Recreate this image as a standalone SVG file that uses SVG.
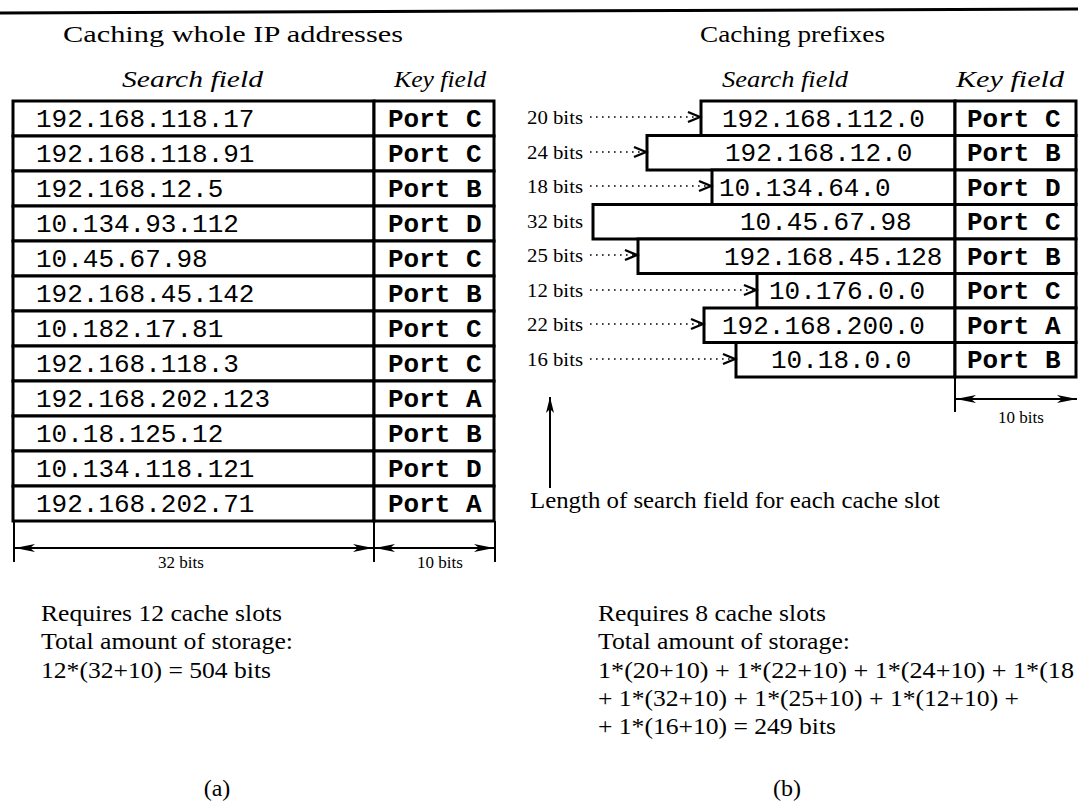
<svg xmlns="http://www.w3.org/2000/svg" width="1078" height="811" viewBox="0 0 1078 811">
<style>
.serif{font-family:"Liberation Serif","Times New Roman",serif;fill:#000}
.it{font-style:italic}
.mono{font-family:"Liberation Mono","Courier New",monospace;font-size:26px;fill:#000}
.key{font-weight:bold}
.box{fill:#fff;stroke:#000;stroke-width:3}
.dot{stroke:#000;stroke-width:1.6;stroke-dasharray:1.6 4.4;fill:none}
.dim{stroke:#000;stroke-width:2;fill:none}
.lbl{font-size:19px}
.body{font-size:24px}
</style>
<defs>
<marker id="chev" markerWidth="17" markerHeight="14" refX="14" refY="7" orient="auto" markerUnits="userSpaceOnUse">
<path d="M2,2 L14,7 L2,12" fill="none" stroke="#000" stroke-width="2.4"/>
</marker>
<marker id="barb" markerWidth="22" markerHeight="10" refX="20" refY="5" orient="auto-start-reverse" markerUnits="userSpaceOnUse">
<path d="M0,1 L20,5 L0,9 L5,5 z" fill="#000"/>
</marker>
<marker id="up" markerWidth="18" markerHeight="10" refX="16" refY="5" orient="auto" markerUnits="userSpaceOnUse">
<path d="M0,1 L16,5 L0,9 L4,5 z" fill="#000"/>
</marker>
</defs>
<rect width="1078" height="811" fill="#fff"/>
<line x1="0" y1="13" x2="1078" y2="9" stroke="#000" stroke-width="3"/>

<g id="titles">
<text class="serif" x="63" y="42" font-size="24" textLength="340" lengthAdjust="spacingAndGlyphs">Caching whole IP addresses</text>
<text class="serif" x="700" y="42" font-size="24" textLength="185" lengthAdjust="spacingAndGlyphs">Caching prefixes</text>
<text class="serif it" x="122" y="87" font-size="24" textLength="141" lengthAdjust="spacingAndGlyphs">Search field</text>
<text class="serif it" x="394" y="87" font-size="24" textLength="92" lengthAdjust="spacingAndGlyphs">Key field</text>
<text class="serif it" x="722" y="87" font-size="24" textLength="126" lengthAdjust="spacingAndGlyphs">Search field</text>
<text class="serif it" x="956" y="87" font-size="24" textLength="108" lengthAdjust="spacingAndGlyphs">Key field</text>
</g>

<g id="left-table">
<g id="l1"><rect class="box" x="13" y="101" width="361" height="35"/><rect class="box" x="374" y="101" width="120" height="35"/><text class="mono" x="36" y="127">192.168.118.17</text><text class="mono key" x="388" y="127">Port C</text></g>
<g id="l2"><rect class="box" x="13" y="136" width="361" height="35"/><rect class="box" x="374" y="136" width="120" height="35"/><text class="mono" x="36" y="162">192.168.118.91</text><text class="mono key" x="388" y="162">Port C</text></g>
<g id="l3"><rect class="box" x="13" y="171" width="361" height="35"/><rect class="box" x="374" y="171" width="120" height="35"/><text class="mono" x="36" y="197">192.168.12.5</text><text class="mono key" x="388" y="197">Port B</text></g>
<g id="l4"><rect class="box" x="13" y="206" width="361" height="35"/><rect class="box" x="374" y="206" width="120" height="35"/><text class="mono" x="36" y="232">10.134.93.112</text><text class="mono key" x="388" y="232">Port D</text></g>
<g id="l5"><rect class="box" x="13" y="241" width="361" height="35"/><rect class="box" x="374" y="241" width="120" height="35"/><text class="mono" x="36" y="267">10.45.67.98</text><text class="mono key" x="388" y="267">Port C</text></g>
<g id="l6"><rect class="box" x="13" y="276" width="361" height="35"/><rect class="box" x="374" y="276" width="120" height="35"/><text class="mono" x="36" y="302">192.168.45.142</text><text class="mono key" x="388" y="302">Port B</text></g>
<g id="l7"><rect class="box" x="13" y="311" width="361" height="35"/><rect class="box" x="374" y="311" width="120" height="35"/><text class="mono" x="36" y="337">10.182.17.81</text><text class="mono key" x="388" y="337">Port C</text></g>
<g id="l8"><rect class="box" x="13" y="346" width="361" height="35"/><rect class="box" x="374" y="346" width="120" height="35"/><text class="mono" x="36" y="372">192.168.118.3</text><text class="mono key" x="388" y="372">Port C</text></g>
<g id="l9"><rect class="box" x="13" y="381" width="361" height="35"/><rect class="box" x="374" y="381" width="120" height="35"/><text class="mono" x="36" y="407">192.168.202.123</text><text class="mono key" x="388" y="407">Port A</text></g>
<g id="l10"><rect class="box" x="13" y="416" width="361" height="35"/><rect class="box" x="374" y="416" width="120" height="35"/><text class="mono" x="36" y="442">10.18.125.12</text><text class="mono key" x="388" y="442">Port B</text></g>
<g id="l11"><rect class="box" x="13" y="451" width="361" height="35"/><rect class="box" x="374" y="451" width="120" height="35"/><text class="mono" x="36" y="477">10.134.118.121</text><text class="mono key" x="388" y="477">Port D</text></g>
<g id="l12"><rect class="box" x="13" y="486" width="361" height="35"/><rect class="box" x="374" y="486" width="120" height="35"/><text class="mono" x="36" y="512">192.168.202.71</text><text class="mono key" x="388" y="512">Port A</text></g>
</g>

<g id="right-table">
<g id="r1"><rect class="box" x="701" y="101" width="254" height="34.5"/><rect class="box" x="955" y="101" width="121" height="34.5"/><text class="mono" x="722" y="127">192.168.112.0</text><text class="mono key" x="967" y="127">Port C</text><text class="serif lbl" x="527" y="124" textLength="56" lengthAdjust="spacingAndGlyphs">20 bits</text></g>
<g id="r2"><rect class="box" x="647" y="135.5" width="308" height="34.5"/><rect class="box" x="955" y="135.5" width="121" height="34.5"/><text class="mono" x="725" y="161">192.168.12.0</text><text class="mono key" x="967" y="161">Port B</text><text class="serif lbl" x="527" y="159" textLength="56" lengthAdjust="spacingAndGlyphs">24 bits</text></g>
<g id="r3"><rect class="box" x="712" y="170" width="243" height="34.5"/><rect class="box" x="955" y="170" width="121" height="34.5"/><text class="mono" x="719" y="196">10.134.64.0</text><text class="mono key" x="967" y="196">Port D</text><text class="serif lbl" x="527" y="193" textLength="56" lengthAdjust="spacingAndGlyphs">18 bits</text></g>
<g id="r4"><rect class="box" x="593" y="204.5" width="362" height="34.5"/><rect class="box" x="955" y="204.5" width="121" height="34.5"/><text class="mono" x="740" y="230">10.45.67.98</text><text class="mono key" x="967" y="230">Port C</text><text class="serif lbl" x="527" y="228" textLength="56" lengthAdjust="spacingAndGlyphs">32 bits</text></g>
<g id="r5"><rect class="box" x="638" y="239" width="317" height="34.5"/><rect class="box" x="955" y="239" width="121" height="34.5"/><text class="mono" x="724" y="265">192.168.45.128</text><text class="mono key" x="967" y="265">Port B</text><text class="serif lbl" x="527" y="262" textLength="56" lengthAdjust="spacingAndGlyphs">25 bits</text></g>
<g id="r6"><rect class="box" x="757" y="273.5" width="198" height="34.5"/><rect class="box" x="955" y="273.5" width="121" height="34.5"/><text class="mono" x="769" y="299">10.176.0.0</text><text class="mono key" x="967" y="299">Port C</text><text class="serif lbl" x="527" y="297" textLength="56" lengthAdjust="spacingAndGlyphs">12 bits</text></g>
<g id="r7"><rect class="box" x="704" y="308" width="251" height="34.5"/><rect class="box" x="955" y="308" width="121" height="34.5"/><text class="mono" x="722" y="334">192.168.200.0</text><text class="mono key" x="967" y="334">Port A</text><text class="serif lbl" x="527" y="331" textLength="56" lengthAdjust="spacingAndGlyphs">22 bits</text></g>
<g id="r8"><rect class="box" x="736" y="342.5" width="219" height="34.5"/><rect class="box" x="955" y="342.5" width="121" height="34.5"/><text class="mono" x="771" y="368">10.18.0.0</text><text class="mono key" x="967" y="368">Port B</text><text class="serif lbl" x="527" y="366" textLength="56" lengthAdjust="spacingAndGlyphs">16 bits</text></g>
</g>

<g id="connectors">
<line class="dot" x1="590" y1="117" x2="700" y2="117" marker-end="url(#chev)"/>
<line class="dot" x1="590" y1="152" x2="646" y2="152" marker-end="url(#chev)"/>
<line class="dot" x1="590" y1="186" x2="711" y2="186" marker-end="url(#chev)"/>
<line class="dot" x1="590" y1="255" x2="637" y2="255" marker-end="url(#chev)"/>
<line class="dot" x1="590" y1="290" x2="756" y2="290" marker-end="url(#chev)"/>
<line class="dot" x1="590" y1="324" x2="703" y2="324" marker-end="url(#chev)"/>
<line class="dot" x1="590" y1="359" x2="735" y2="359" marker-end="url(#chev)"/>
<line class="dim" x1="550" y1="488" x2="550" y2="397" marker-end="url(#up)"/>
<line class="dim" x1="14" y1="521" x2="14" y2="562"/>
<line class="dim" x1="374" y1="521" x2="374" y2="562"/>
<line class="dim" x1="495" y1="521" x2="495" y2="562"/>
<line class="dim" x1="15" y1="548" x2="373" y2="548" marker-start="url(#barb)" marker-end="url(#barb)"/>
<line class="dim" x1="375" y1="548" x2="494" y2="548" marker-start="url(#barb)" marker-end="url(#barb)"/>
<line class="dim" x1="955" y1="377" x2="955" y2="412"/>
<line class="dim" x1="956" y1="399" x2="1077" y2="399" marker-start="url(#barb)" marker-end="url(#barb)"/>
</g>

<g id="labels">
<text class="serif" x="181" y="568" font-size="17" text-anchor="middle">32 bits</text>
<text class="serif" x="440" y="568" font-size="17" text-anchor="middle">10 bits</text>
<text class="serif" x="1021" y="423" font-size="17" text-anchor="middle">10 bits</text>
<text class="serif" x="530" y="508" font-size="23" textLength="410" lengthAdjust="spacingAndGlyphs">Length of search field for each cache slot</text>
</g>

<g id="notes-a">
<text class="serif body" x="41" y="621" textLength="241" lengthAdjust="spacingAndGlyphs">Requires 12 cache slots</text>
<text class="serif body" x="41" y="649" textLength="252" lengthAdjust="spacingAndGlyphs">Total amount of storage:</text>
<text class="serif body" x="41" y="678" textLength="230" lengthAdjust="spacingAndGlyphs">12*(32+10) = 504 bits</text>
<text class="serif body" x="217" y="796" text-anchor="middle">(a)</text>
</g>
<g id="notes-b">
<text class="serif body" x="598" y="621" textLength="228" lengthAdjust="spacingAndGlyphs">Requires 8 cache slots</text>
<text class="serif body" x="598" y="649" textLength="252" lengthAdjust="spacingAndGlyphs">Total amount of storage:</text>
<text class="serif body" x="598" y="678" textLength="476" lengthAdjust="spacingAndGlyphs">1*(20+10) + 1*(22+10) + 1*(24+10) + 1*(18</text>
<text class="serif body" x="598" y="706" textLength="421" lengthAdjust="spacingAndGlyphs">+ 1*(32+10) + 1*(25+10) + 1*(12+10) +</text>
<text class="serif body" x="598" y="734" textLength="238" lengthAdjust="spacingAndGlyphs">+ 1*(16+10) = 249 bits</text>
<text class="serif body" x="787" y="796" text-anchor="middle">(b)</text>
</g>
</svg>
